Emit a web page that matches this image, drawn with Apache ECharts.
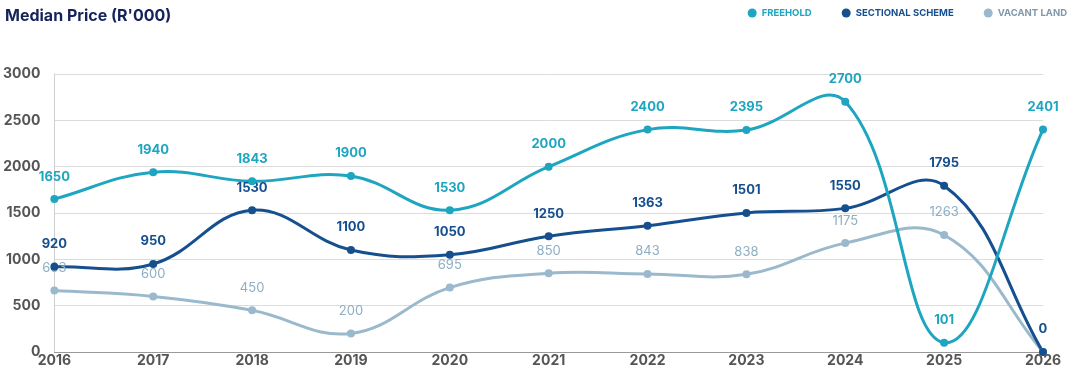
<!DOCTYPE html>
<html><head><meta charset="utf-8">
<script src="https://cdn.jsdelivr.net/npm/echarts@6/dist/echarts.min.js"></script>
<style>html,body{margin:0;padding:0;background:#fff}#c{width:1072px;height:370px}</style>
</head><body><div id="c"></div>
<script>
const categories = ['2016','2017','2018','2019','2020','2021','2022','2023','2024','2025','2026'];
const freehold = [1650,1940,1843,1900,1530,2000,2400,2395,2700,101,2401];
const sectional = [920,950,1530,1100,1050,1250,1363,1501,1550,1795,0];
const vacant = [663,600,450,200,695,850,843,838,1175,1263,0];
const yTicks = [0,500,1000,1500,2000,2500,3000];

const C_FREE = '#1ea5c0', C_SECT = '#164f8e', C_VAC = '#9bb9cc';
const chart = echarts.init(document.getElementById('c'));

// Cubic spline (tension 0.4) through the data, positioned by the chart's own scales
function curveSeries(name, vals, color, z){
  return {
    name, type:'custom', data:[[0,0]], z, silent:true, legendHoverLink:false,
    renderItem(params, api){
      const cs = params.coordSys;
      const pts = vals.map((v,i)=>api.coord([i, v]));
      const t = 0.4;
      const clampX = x => Math.max(cs.x, Math.min(cs.x+cs.width, x));
      const clampY = y => Math.max(cs.y, Math.min(cs.y+cs.height, y));
      const cps = pts.map((p,i)=>{
        const prev = pts[i-1]||p, next = pts[i+1]||p;
        const d01 = Math.hypot(p[0]-prev[0], p[1]-prev[1]);
        const d12 = Math.hypot(next[0]-p[0], next[1]-p[1]);
        let s01 = d01/(d01+d12), s12 = d12/(d01+d12);
        if(!isFinite(s01)) s01 = 0; if(!isFinite(s12)) s12 = 0;
        const fa = t*s01, fb = t*s12;
        return {
          prev:[clampX(p[0]-fa*(next[0]-prev[0])), clampY(p[1]-fa*(next[1]-prev[1]))],
          next:[clampX(p[0]+fb*(next[0]-prev[0])), clampY(p[1]+fb*(next[1]-prev[1]))]
        };
      });
      const children = [];
      for(let i=0;i<pts.length-1;i++){
        children.push({type:'bezierCurve', shape:{
          x1:pts[i][0], y1:pts[i][1], x2:pts[i+1][0], y2:pts[i+1][1],
          cpx1:cps[i].next[0], cpy1:cps[i].next[1], cpx2:cps[i+1].prev[0], cpy2:cps[i+1].prev[1]},
          style:{stroke:color, lineWidth:3, fill:null, lineCap:'round'}});
      }
      return {type:'group', children};
    }
  };
}
function ser(name, data, color, lblColor, weight, showZero, z){
  return {
    name, type:'line', data, symbol:'circle', symbolSize:8, z,
    lineStyle:{width:0, opacity:0, color}, itemStyle:{color},
    label:{show:true, position:'top', distance:12, color:lblColor, fontFamily:'Inter', fontSize:13, fontWeight:weight,
      formatter: p => (!showZero && p.value===0) ? '' : p.value}
  };
}
chart.setOption({
  animation:false,
  title:{text:"Median Price (R'000)", left:0, top:3, textStyle:{fontFamily:'Inter', fontSize:16, fontWeight:'bold', color:'#16235a'}},
  legend:{right:0, top:3, icon:'circle', itemWidth:9, itemHeight:9, itemGap:30,
    data:[
      {name:'FREEHOLD', textStyle:{color:C_FREE}},
      {name:'SECTIONAL SCHEME', textStyle:{color:C_SECT}},
      {name:'VACANT LAND', textStyle:{color:'#7f98ab'}}
    ],
    textStyle:{fontFamily:'Inter', fontSize:9.5, fontWeight:'bold'}},
  grid:{left:52, right:29, top:74, bottom:18},
  xAxis:{type:'category', data:categories, boundaryGap:false,
    axisLine:{lineStyle:{color:'#999'}}, axisTick:{show:false},
    splitLine:{show:false},
    axisLabel:{color:'#555', fontFamily:'Inter', fontSize:14, fontWeight:'bold', margin:2, interval:0}},
  yAxis:{type:'value', min:0, max:3000, interval:500,
    axisLine:{show:true, lineStyle:{color:'#cfcfcf'}}, axisTick:{show:false},
    splitLine:{lineStyle:{color:'#dcdcdc'}},
    axisLabel:{color:'#555', fontFamily:'Inter', fontSize:14, fontWeight:'bold', margin:14,
      formatter: v => yTicks.includes(v) ? String(v) : ''}},
  series:[
    ser('FREEHOLD', freehold, C_FREE, C_FREE, 'bold', true, 12),
    ser('SECTIONAL SCHEME', sectional, C_SECT, C_SECT, 'bold', true, 11),
    ser('VACANT LAND', vacant, C_VAC, '#8eaec3', 'normal', false, 10),
    curveSeries('c-vacant', vacant, C_VAC, 3),
    curveSeries('c-sectional', sectional, C_SECT, 4),
    curveSeries('c-freehold', freehold, C_FREE, 5)
  ]
});
</script></body></html>
